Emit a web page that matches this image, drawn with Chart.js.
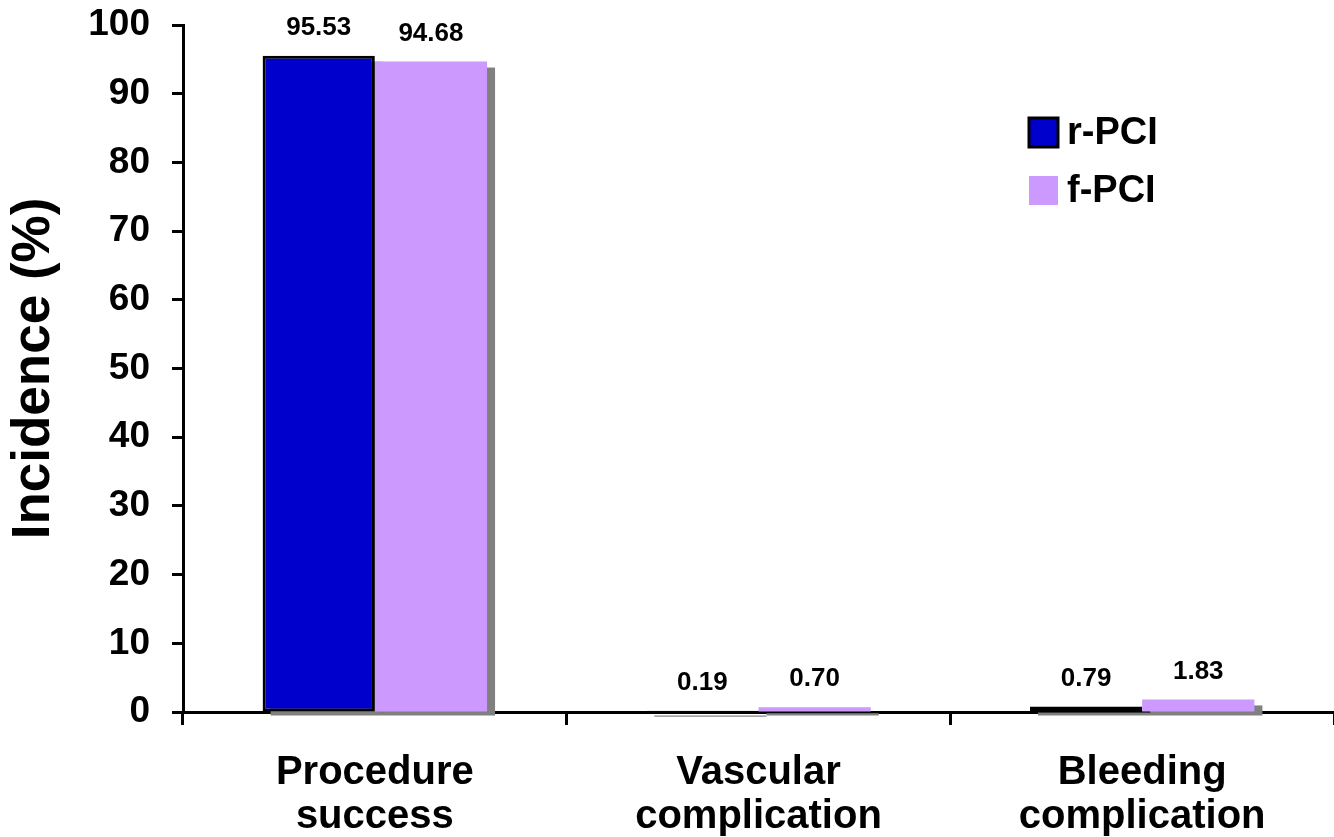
<!DOCTYPE html>
<html lang="en">
<head>
    <meta charset="UTF-8">
    <title>Incidence chart</title>
    <script src="https://cdn.jsdelivr.net/npm/chart.js"></script>
    <style>
        html, body {
            margin: 0;
            padding: 0;
            background: #ffffff;
        }
        #wrap {
            width: 1334px;
            height: 837px;
            position: relative;
        }
    </style>
</head>
<body>
    <div id="wrap">
        <canvas id="incidenceChart"></canvas>
    </div>

    <script>
        const categories = [['Procedure', 'success'], ['Vascular', 'complication'], ['Bleeding', 'complication']];
        const seriesNames = ['r-PCI', 'f-PCI'];
        const rPci = [95.53, 0.19, 0.79];
        const fPci = [94.68, 0.70, 1.83];
        const yTicks = [0, 10, 20, 30, 40, 50, 60, 70, 80, 90, 100];

        const FONT = "'Liberation Sans', Arial, sans-serif";

        // grey drop shadow behind every bar
        const shadowPlugin = {
            id: 'barShadow',
            beforeDatasetsDraw(chart) {
                const ctx = chart.ctx;
                ctx.save();
                ctx.fillStyle = '#808080';
                chart.data.datasets.forEach((ds, i) => {
                    chart.getDatasetMeta(i).data.forEach(bar => {
                        const p = bar.getProps(['x', 'y', 'base', 'width'], true);
                        ctx.fillRect(p.x - p.width / 2 + 8, p.y + 6, p.width, p.base - p.y - 2);
                    });
                });
                ctx.restore();
            }
        };

        // value labels above the bars
        const valueLabels = {
            id: 'valueLabels',
            afterDatasetsDraw(chart) {
                const ctx = chart.ctx;
                ctx.save();
                ctx.font = 'bold 26px ' + FONT;
                ctx.fillStyle = '#000';
                ctx.textAlign = 'center';
                ctx.textBaseline = 'middle';
                chart.data.datasets.forEach((ds, i) => {
                    chart.getDatasetMeta(i).data.forEach((bar, j) => {
                        ctx.fillText(ds.data[j].toFixed(2), bar.x, bar.y - 28);
                    });
                });
                ctx.restore();
            }
        };

        // legend drawn inside the plot, upper right
        const boxLegend = {
            id: 'boxLegend',
            afterDraw(chart) {
                const ctx = chart.ctx;
                ctx.save();
                ctx.font = 'bold 38px ' + FONT;
                ctx.textBaseline = 'middle';
                ctx.textAlign = 'left';
                chart.data.datasets.forEach((ds, i) => {
                    const bx = 1029, by = 118 + i * 58;
                    ctx.fillStyle = ds.backgroundColor;
                    ctx.fillRect(bx, by, 29, 29);
                    if (ds.borderWidth) {
                        ctx.lineWidth = 3;
                        ctx.strokeStyle = '#000';
                        ctx.strokeRect(bx, by, 29, 29);
                    }
                    ctx.fillStyle = '#000';
                    ctx.fillText(ds.label, bx + 38, by + 16);
                });
                ctx.restore();
            }
        };

        new Chart(document.getElementById('incidenceChart'), {
            type: 'bar',
            data: {
                labels: categories,
                datasets: [
                    {
                        label: seriesNames[0],
                        data: rPci,
                        backgroundColor: '#0000CC',
                        borderColor: '#000000',
                        borderWidth: 3,
                        borderSkipped: false
                    },
                    {
                        label: seriesNames[1],
                        data: fPci,
                        backgroundColor: '#CC99FF',
                        borderWidth: 0
                    }
                ]
            },
            options: {
                responsive: true,
                maintainAspectRatio: false,
                animation: false,
                layout: { padding: { top: 25, left: 0, right: 0, bottom: 0 } },
                datasets: {
                    bar: { categoryPercentage: 0.585, barPercentage: 1.0 }
                },
                plugins: {
                    legend: { display: false },
                    tooltip: { enabled: false }
                },
                scales: {
                    x: {
                        grid: {
                            offset: true,
                            drawOnChartArea: false,
                            tickLength: 13,
                            tickWidth: 3,
                            tickColor: '#000'
                        },
                        border: { width: 3, color: '#000' },
                        ticks: {
                            color: '#000',
                            padding: 26,
                            maxRotation: 0,
                            font: { family: FONT, size: 40, weight: 'bold', lineHeight: 1.1 }
                        },
                        afterFit(scale) {
                            scale.height = 125;
                            scale.paddingLeft = 0;
                            scale.paddingRight = 0;
                        }
                    },
                    y: {
                        min: 0,
                        max: 100,
                        afterBuildTicks(scale) { scale.ticks = yTicks.map(v => ({ value: v })); },
                        grid: {
                            drawOnChartArea: false,
                            tickLength: 11,
                            tickWidth: 3,
                            tickColor: '#000'
                        },
                        border: { width: 3, color: '#000' },
                        ticks: {
                            color: '#000',
                            padding: 22,
                            font: { family: FONT, size: 37, weight: 'bold' }
                        },
                        title: {
                            display: true,
                            text: 'Incidence (%)',
                            color: '#000',
                            padding: { top: 3, bottom: 0 },
                            font: { family: FONT, size: 53, weight: 'bold' }
                        },
                        afterFit(scale) {
                            scale.width = 183;
                            scale.paddingTop = 0;
                            scale.paddingBottom = 0;
                        }
                    }
                }
            },
            plugins: [shadowPlugin, valueLabels, boxLegend]
        });
    </script>
</body>
</html>
